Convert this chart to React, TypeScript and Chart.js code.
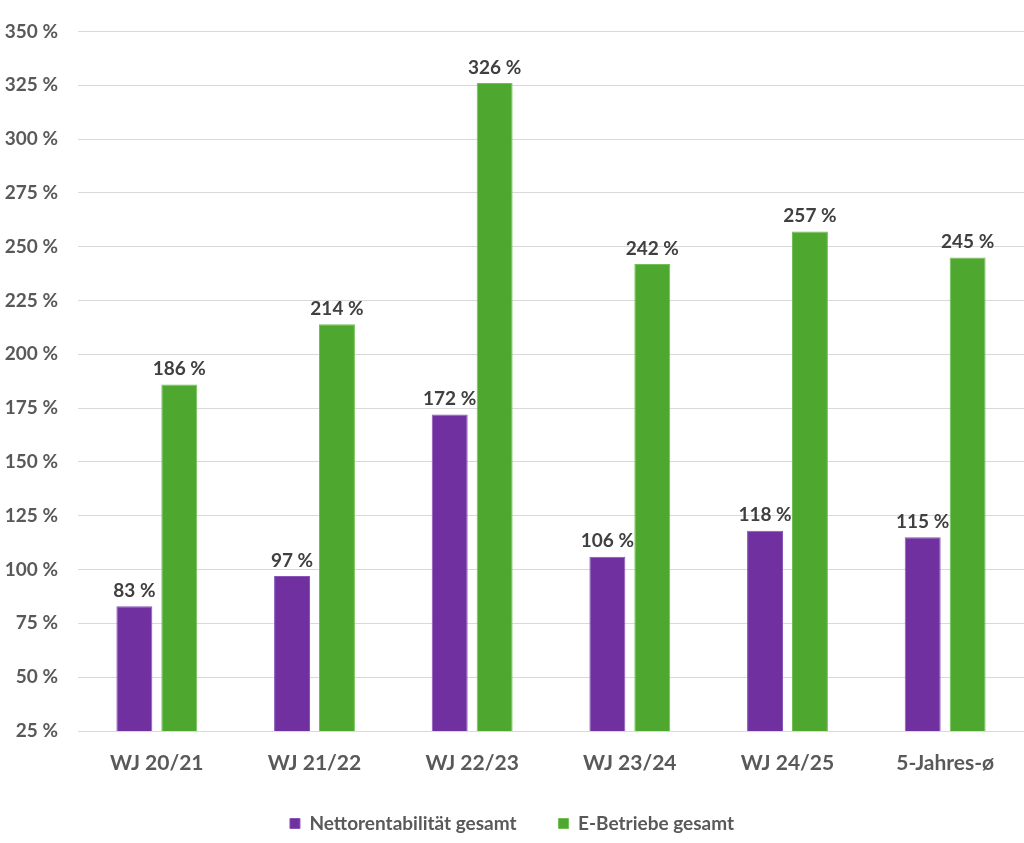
import React, { useEffect, useRef } from "react";
import { Chart, registerables } from "chart.js";

Chart.register(...registerables);

const categories = ["WJ 20/21", "WJ 21/22", "WJ 22/23", "WJ 23/24", "WJ 24/25", "5-Jahres-ø"];
const nettoValues = [83, 97, 172, 106, 118, 115];
const eBetriebeValues = [186, 214, 326, 242, 257, 245];
const seriesNames = ["Nettorentabilität gesamt", "E-Betriebe gesamt"];
const yMin = 25;
const yMax = 350;
const yStep = 25;

const FONT = "Lato, 'Open Sans', sans-serif";

const dataLabelPlugin = {
  id: "dataLabels",
  afterDatasetsDraw(chart: any) {
    const ctx = chart.ctx;
    ctx.save();
    ctx.font = `bold 19px ${FONT}`;
    ctx.fillStyle = "#404040";
    ctx.textAlign = "center";
    ctx.textBaseline = "bottom";
    chart.data.datasets.forEach((ds: any, di: number) => {
      const meta = chart.getDatasetMeta(di);
      meta.data.forEach((el: any, i: number) => {
        ctx.fillText(`${ds.data[i]} %`, el.x, el.y - 6);
      });
    });
    ctx.restore();
  },
};

export default function App() {
  const ref = useRef<HTMLCanvasElement | null>(null);
  useEffect(() => {
    if (!ref.current) return;
    const chart = new Chart(ref.current, {
      type: "bar",
      data: {
        labels: categories,
        datasets: [
          {
            label: seriesNames[0],
            data: nettoValues,
            backgroundColor: "#7030A0",
            borderColor: "#8a55b8",
            borderWidth: 1,
            categoryPercentage: 0.57,
            barPercentage: 0.8,
          },
          {
            label: seriesNames[1],
            data: eBetriebeValues,
            backgroundColor: "#4EA72E",
            borderColor: "#72c055",
            borderWidth: 1,
            categoryPercentage: 0.57,
            barPercentage: 0.8,
          },
        ],
      },
      options: {
        responsive: false,
        animation: false,
        layout: { padding: { top: 25, right: 0, bottom: 0, left: 0 } },
        plugins: {
          tooltip: { enabled: false },
          legend: {
            position: "bottom",
            labels: {
              boxWidth: 10,
              boxHeight: 10,
              padding: 42,
              color: "#595959",
              font: { family: FONT, size: 19, weight: "bold" },
            },
          },
        },
        scales: {
          x: {
            grid: { display: false, drawTicks: false },
            border: { display: false },
            ticks: {
              color: "#595959",
              padding: 20,
              font: { family: FONT, size: 21, weight: "bold" },
            },
            afterFit: (scale: any) => {
              scale.height = 41;
            },
          },
          y: {
            min: yMin,
            max: yMax,
            grid: { color: "#d9d9d9", lineWidth: 1, drawTicks: false },
            border: { display: false },
            ticks: {
              stepSize: yStep,
              padding: 20,
              color: "#595959",
              font: { family: FONT, size: 19, weight: "bold" },
              callback: (v: any) => `${v} %`,
            },
            afterFit: (scale: any) => {
              scale.width = 78;
            },
          },
        },
      },
      plugins: [dataLabelPlugin],
    });
    return () => chart.destroy();
  }, []);
  return (
    <div style={{ position: "fixed", left: 0, top: 0, width: 1024, height: 843, background: "#fff" }}>
      <canvas ref={ref} width={1024} height={843} />
    </div>
  );
}
